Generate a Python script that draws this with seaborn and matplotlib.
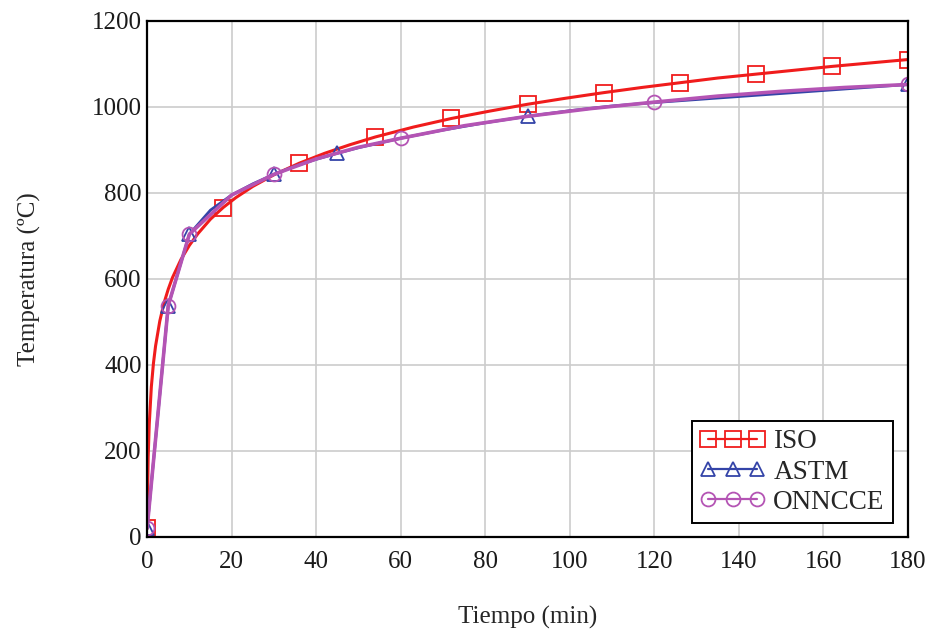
import matplotlib
matplotlib.use("Agg")
import matplotlib.pyplot as plt
from matplotlib.lines import Line2D
import seaborn as sns
import pandas as pd

# ISO 834 standard fire curve (min, °C)
iso_t = [0, 0.25, 0.5, 1, 1.5, 2, 3, 4, 5, 6, 8, 10, 12, 15, 18, 21, 25, 30,
         36, 42, 48, 54, 63, 72, 81, 90, 99, 108, 117, 126, 135, 144, 153,
         162, 171, 180]
iso_T = [20, 185, 261, 349, 404, 444, 502, 544, 576, 603, 645, 678, 705, 739,
         766, 789, 815, 842, 869, 892, 912, 930, 953, 973, 990, 1006, 1020,
         1033, 1045, 1056, 1067, 1076, 1085, 1094, 1102, 1110]
iso_marks = [0, 18, 36, 54, 72, 90, 108, 126, 144, 162, 180]

# ASTM E119 curve
astm_t = [0, 5, 10, 15, 20, 25, 30, 35, 40, 45, 50, 55, 60, 70, 80, 90, 100,
          110, 120, 130, 140, 150, 160, 170, 180]
astm_T = [20, 538, 704, 760, 795, 821, 843, 862, 878, 892, 905, 916, 927, 946,
          963, 978, 991, 1002, 1010, 1017, 1024, 1031, 1038, 1045, 1052]
astm_marks = [0, 5, 10, 30, 45, 90, 180]

# ONNCCE curve
onn_t = [0, 5, 10, 20, 30, 40, 50, 60, 75, 90, 105, 120, 135, 150, 165, 180]
onn_T = [20, 538, 704, 795, 843, 879, 906, 927, 956, 978, 996, 1011, 1025,
         1036, 1045, 1052]
onn_marks = [0, 5, 10, 30, 60, 120, 180]

x_ticks = [0, 20, 40, 60, 80, 100, 120, 140, 160, 180]
y_ticks = [0, 200, 400, 600, 800, 1000, 1200]

series = [
    ("ISO", iso_t, iso_T, iso_marks, "#f01c1c", "s", 11, 2.2),
    ("ASTM", astm_t, astm_T, astm_marks, "#3444a8", "^", 10, 2.0),
    ("ONNCCE", onn_t, onn_T, onn_marks, "#b454b4", "o", 10, 2.6),
]

sns.set_style("whitegrid")
plt.rcParams["font.family"] = ["Liberation Serif", "DejaVu Serif"]

fig = plt.figure(figsize=(9.37, 6.31), dpi=100)
ax = fig.add_axes([0.157, 0.149, 0.812, 0.818])

handles = []
for name, t, T, marks, color, marker, ms, lw in series:
    df = pd.DataFrame({"t": t, "T": T})
    idx = [t.index(m) for m in marks]
    sns.lineplot(data=df, x="t", y="T", ax=ax, color=color, linewidth=lw,
                 marker=marker, markersize=ms, markerfacecolor="none",
                 markeredgecolor=color, markeredgewidth=1.3,
                 markevery=idx, estimator=None, sort=False)
    handles.append(Line2D([], [], color=color, linewidth=1.6, marker=marker,
                          markersize=ms, markerfacecolor="none",
                          markeredgecolor=color, markeredgewidth=1.3,
                          label=name))

ax.set_xlim(0, 180)
ax.set_ylim(0, 1200)
ax.set_xticks(x_ticks)
ax.set_yticks(y_ticks)
ax.tick_params(axis="both", length=0, labelsize=18, colors="#1a1a1a")
ax.tick_params(axis="x", pad=10)
ax.tick_params(axis="y", pad=4)
ax.grid(True, color="#cccccc", linewidth=1.2)
for s in ax.spines.values():
    s.set_visible(True)
    s.set_color("black")
    s.set_linewidth(1.6)

ax.set_xlabel("Tiempo (min)", fontsize=18)
ax.set_ylabel("Temperatura (ºC)", fontsize=18)
ax.xaxis.set_label_coords(0.5, -0.134)
ax.yaxis.set_label_coords(-0.140, 0.5)

leg = ax.legend(handles=handles, loc="lower right", numpoints=3,
                handlelength=2.4, fontsize=19.5, frameon=True, fancybox=False,
                framealpha=1, edgecolor="black", borderpad=0.3,
                labelspacing=0.2, handletextpad=0.3, borderaxespad=0,
                bbox_to_anchor=(0.980, 0.027))
leg.get_frame().set_linewidth(1.4)

fig.savefig("out.png", dpi=100, facecolor="white")
